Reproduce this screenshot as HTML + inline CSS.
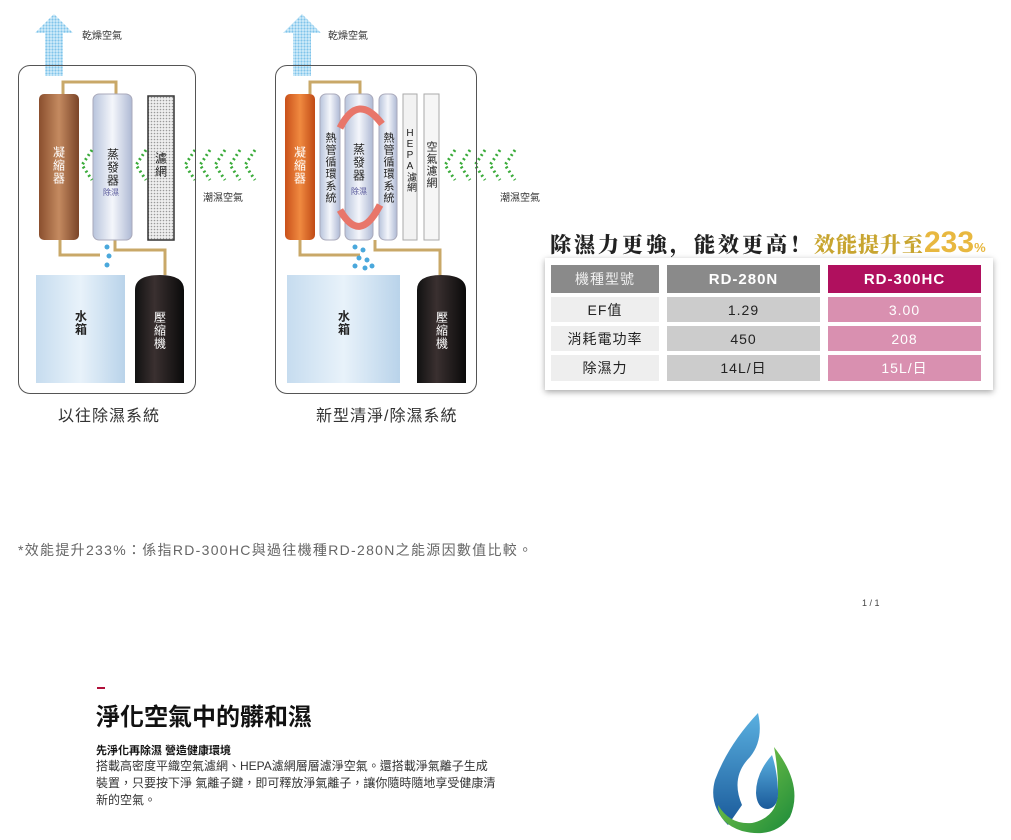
<!DOCTYPE html>
<html><head><meta charset="utf-8"><style>
*{margin:0;padding:0;box-sizing:border-box}
body{width:1011px;height:840px;background:#fff;position:relative;overflow:hidden;font-family:"Liberation Sans","Noto Sans CJK TC",sans-serif;color:#222}
.a{position:absolute}
.box{position:absolute;border:1.5px solid #555;border-radius:12px}
.vt{position:absolute;writing-mode:vertical-rl;text-orientation:upright;font-size:12px;letter-spacing:1px;display:flex;align-items:center;justify-content:center}
.cell{position:absolute;display:flex;align-items:center;justify-content:center;font-size:14px;letter-spacing:1px}
.lbl{position:absolute;font-size:10px;color:#333}
</style></head><body>
<svg class="a" style="left:0;top:0" width="540" height="430">
<defs>
<pattern id="dots" width="3" height="3" patternUnits="userSpaceOnUse"><rect width="3" height="3" fill="#d6eefa"/><circle cx="1.5" cy="1.5" r="1.1" fill="#7fc4ea"/></pattern>
<pattern id="gd" width="3" height="3" patternUnits="userSpaceOnUse"><rect width="3" height="3" fill="#eee"/><circle cx="1.5" cy="1.5" r="0.8" fill="#999"/></pattern>
<linearGradient id="br" x1="0" x2="1"><stop offset="0" stop-color="#8a4f2e"/><stop offset=".5" stop-color="#c48a60"/><stop offset="1" stop-color="#7a4428"/></linearGradient>
<linearGradient id="or" x1="0" x2="1"><stop offset="0" stop-color="#c9501a"/><stop offset=".5" stop-color="#f08a40"/><stop offset="1" stop-color="#c04a15"/></linearGradient>
<linearGradient id="ev" x1="0" x2="1"><stop offset="0" stop-color="#b8c4dc"/><stop offset=".5" stop-color="#f4f6fb"/><stop offset="1" stop-color="#aeb9d4"/></linearGradient>
<linearGradient id="wt" x1="0" x2="1"><stop offset="0" stop-color="#c6dcef"/><stop offset=".5" stop-color="#e8f2fa"/><stop offset="1" stop-color="#b9d3ea"/></linearGradient>
<linearGradient id="cp" x1="0" x2="1"><stop offset="0" stop-color="#111"/><stop offset=".4" stop-color="#3a3030"/><stop offset="1" stop-color="#0a0a0a"/></linearGradient>
</defs>
<path d="M45,76 V33 H35 L54,14 L73,33 H63 V76 Z" fill="url(#dots)"/>
<path d="M293,76 V33 H283 L302,14 L321,33 H311 V76 Z" fill="url(#dots)"/>
<g fill="none" stroke="#c9a868" stroke-width="3">
<path d="M63,94 V82 H116 V94"/><path d="M60,240 V255 H100"/><path d="M115,240 V250 H165 V275"/>
<path d="M310,94 V82 H360 V94"/><path d="M300,240 V255 H360"/><path d="M375,240 V250 H440 V275"/>
</g>
<rect x="39" y="94" width="40" height="146" rx="5" fill="url(#br)"/>
<rect x="93" y="94" width="39" height="146" rx="6" fill="url(#ev)" stroke="#aab"/>
<rect x="148" y="96" width="26" height="144" fill="url(#gd)" stroke="#333" stroke-width="1.5"/>
<rect x="36" y="275" width="89" height="108" fill="url(#wt)"/>
<path d="M135,383 V290 Q135,275 160,275 Q184,275 184,290 V383 Z" fill="url(#cp)"/>
<rect x="285" y="94" width="30" height="146" rx="5" fill="url(#or)"/>
<rect x="320" y="94" width="20" height="146" rx="6" fill="url(#ev)" stroke="#aab"/>
<rect x="345" y="94" width="28" height="146" rx="6" fill="url(#ev)" stroke="#aab"/>
<rect x="379" y="94" width="18" height="146" rx="6" fill="url(#ev)" stroke="#aab"/>
<rect x="403" y="94" width="14" height="146" fill="#f2f2f2" stroke="#aaa"/>
<rect x="424" y="94" width="15" height="146" fill="#f6f6f6" stroke="#aaa"/>
<rect x="287" y="275" width="113" height="108" fill="url(#wt)"/>
<path d="M417,383 V290 Q417,275 441,275 Q466,275 466,290 V383 Z" fill="url(#cp)"/>
<path d="M340,128 Q358,92 382,124" fill="none" stroke="#e8766a" stroke-width="7"/>
<path d="M380,205 Q360,245 340,210" fill="none" stroke="#e8766a" stroke-width="7"/>
<g fill="none" stroke="#3aab3a" stroke-width="3" stroke-dasharray="2 3">
<path d="M92,150 L82,165 L92,180"/><path d="M146,150 L136,165 L146,180"/>
<path d="M195,150 L185,165 L195,180"/><path d="M210,150 L200,165 L210,180"/><path d="M225,150 L215,165 L225,180"/><path d="M240,150 L230,165 L240,180"/><path d="M255,150 L245,165 L255,180"/>
<path d="M455,150 L445,165 L455,180"/><path d="M470,150 L460,165 L470,180"/><path d="M485,150 L475,165 L485,180"/><path d="M500,150 L490,165 L500,180"/><path d="M515,150 L505,165 L515,180"/>
</g>
<g fill="#4aa8dc"><circle cx="107" cy="247" r="2.5"/><circle cx="109" cy="256" r="2.5"/><circle cx="107" cy="265" r="2.5"/>
<circle cx="355" cy="247" r="2.5"/><circle cx="363" cy="250" r="2.5"/><circle cx="359" cy="258" r="2.5"/><circle cx="367" cy="260" r="2.5"/><circle cx="355" cy="266" r="2.5"/><circle cx="365" cy="268" r="2.5"/><circle cx="372" cy="266" r="2.5"/></g>
</svg>
<div class="box" style="left:18px;top:65px;width:178px;height:329px"></div>
<div class="box" style="left:275px;top:65px;width:202px;height:329px"></div>
<div class="lbl" style="left:82px;top:27px">乾燥空氣</div>
<div class="lbl" style="left:328px;top:27px">乾燥空氣</div>
<div class="lbl" style="left:203px;top:189px">潮濕空氣</div>
<div class="lbl" style="left:500px;top:189px">潮濕空氣</div>
<div class="vt" style="left:49px;top:140px;width:20px;height:50px;color:#fff">凝縮器</div>
<div class="vt" style="left:103px;top:145px;width:20px;height:45px">蒸發器</div>
<div class="a" style="left:103px;top:187px;font-size:8px;color:#559">除濕</div>
<div class="vt" style="left:151px;top:145px;width:20px;height:40px">濾網</div>
<div class="vt" style="left:71px;top:305px;width:20px;height:35px;font-weight:bold">水箱</div>
<div class="vt" style="left:150px;top:305px;width:20px;height:50px;color:#fff">壓縮機</div>
<div class="vt" style="left:290px;top:140px;width:20px;height:50px;color:#fff">凝縮器</div>
<div class="vt" style="left:320px;top:130px;width:20px;height:75px;font-size:11px">熱管循環系統</div>
<div class="vt" style="left:349px;top:140px;width:20px;height:45px">蒸發器</div>
<div class="a" style="left:351px;top:186px;font-size:8px;color:#559">除濕</div>
<div class="vt" style="left:378px;top:130px;width:20px;height:75px;font-size:11px">熱管循環系統</div>
<div class="vt" style="left:400px;top:110px;width:20px;height:100px;font-size:10px;letter-spacing:0">HEPA濾網</div>
<div class="vt" style="left:421px;top:140px;width:20px;height:50px;font-size:11px">空氣濾網</div>
<div class="vt" style="left:334px;top:305px;width:20px;height:35px;font-weight:bold">水箱</div>
<div class="vt" style="left:432px;top:305px;width:20px;height:50px;color:#fff">壓縮機</div>
<div class="a" style="left:58px;top:402px;font-size:16px;letter-spacing:1px;color:#333">以往除濕系統</div>
<div class="a" style="left:316px;top:402px;font-size:16px;letter-spacing:1px;color:#333">新型清淨/除濕系統</div>
<div class="a" style="left:550px;top:229px;font-size:21px;font-weight:900;font-family:'Noto Serif CJK SC',serif;letter-spacing:3px;white-space:nowrap;color:#222">除濕力更強，能效更高！<span style="color:#c8a530;letter-spacing:1px">效能提升至</span><span style="color:#e8b840;font-size:30px;font-family:'Liberation Sans',sans-serif;line-height:20px;letter-spacing:0">233</span><span style="color:#e8b840;font-size:13px;font-family:'Liberation Sans',sans-serif">%</span></div>
<div class="a" style="left:545px;top:258px;width:448px;height:132px;background:#fff;box-shadow:0 2px 6px rgba(0,0,0,.35)"></div>
<div class="cell" style="left:551px;top:265px;width:108px;height:28px;background:#8a8a8a;color:#eee">機種型號</div>
<div class="cell" style="left:667px;top:265px;width:153px;height:28px;background:#8a8a8a;color:#fff;font-weight:bold;font-size:15px">RD-280N</div>
<div class="cell" style="left:828px;top:265px;width:153px;height:28px;background:#b0105e;color:#fff;font-weight:bold;font-size:15px">RD-300HC</div>
<div class="cell" style="left:551px;top:297px;width:108px;height:25px;background:#eee">EF值</div>
<div class="cell" style="left:667px;top:297px;width:153px;height:25px;background:#ccc">1.29</div>
<div class="cell" style="left:828px;top:297px;width:153px;height:25px;background:#d990b0;color:#fff">3.00</div>
<div class="cell" style="left:551px;top:326px;width:108px;height:25px;background:#eee">消耗電功率</div>
<div class="cell" style="left:667px;top:326px;width:153px;height:25px;background:#ccc">450</div>
<div class="cell" style="left:828px;top:326px;width:153px;height:25px;background:#d990b0;color:#fff">208</div>
<div class="cell" style="left:551px;top:355px;width:108px;height:26px;background:#eee">除濕力</div>
<div class="cell" style="left:667px;top:355px;width:153px;height:26px;background:#ccc">14L/日</div>
<div class="cell" style="left:828px;top:355px;width:153px;height:26px;background:#d990b0;color:#fff">15L/日</div>
<div class="a" style="left:18px;top:540px;font-size:14px;color:#666;letter-spacing:1.3px">*效能提升233%：係指RD-300HC與過往機種RD-280N之能源因數值比較。</div>
<div class="a" style="left:862px;top:598px;font-size:9px;color:#444">1 / 1</div>
<div class="a" style="left:97px;top:687px;width:8px;height:2px;background:#b0103a"></div>
<div class="a" style="left:96px;top:697px;font-size:24px;font-weight:bold;color:#111">淨化空氣中的髒和濕</div>
<div class="a" style="left:96px;top:742px;font-size:11px;font-weight:bold;color:#111">先淨化再除濕 營造健康環境</div>
<div class="a" style="left:96px;top:758px;width:400px;font-size:12px;line-height:17px;color:#333">搭載高密度平織空氣濾網、HEPA濾網層層濾淨空氣。還搭載淨氣離子生成裝置，只要按下淨 氣離子鍵，即可釋放淨氣離子，讓你隨時隨地享受健康清新的空氣。</div>
<svg class="a" style="left:700px;top:705px" width="100" height="135">
<defs><linearGradient id="bl" x1="0" y1="0" x2="0" y2="1"><stop offset="0" stop-color="#5ab0e0"/><stop offset="1" stop-color="#1a5a9a"/></linearGradient>
<linearGradient id="gr" x1="0" y1="0" x2="1" y2="1"><stop offset="0" stop-color="#8ed04a"/><stop offset="1" stop-color="#1a8a3a"/></linearGradient></defs>
<path d="M58,8 Q28,40 15,75 Q8,100 28,120 L42,100 Q30,72 50,52 Q64,35 58,8 Z" fill="url(#bl)"/>
<path d="M74,42 Q104,80 90,112 Q74,134 42,126 Q18,118 18,100 Q30,120 52,118 Q78,112 78,86 Q78,62 74,42 Z" fill="url(#gr)"/>
<path d="M72,50 Q56,68 56,88 Q57,104 68,104 Q79,102 78,85 Q77,65 72,50 Z" fill="url(#bl)"/>
</svg>
</body></html>
